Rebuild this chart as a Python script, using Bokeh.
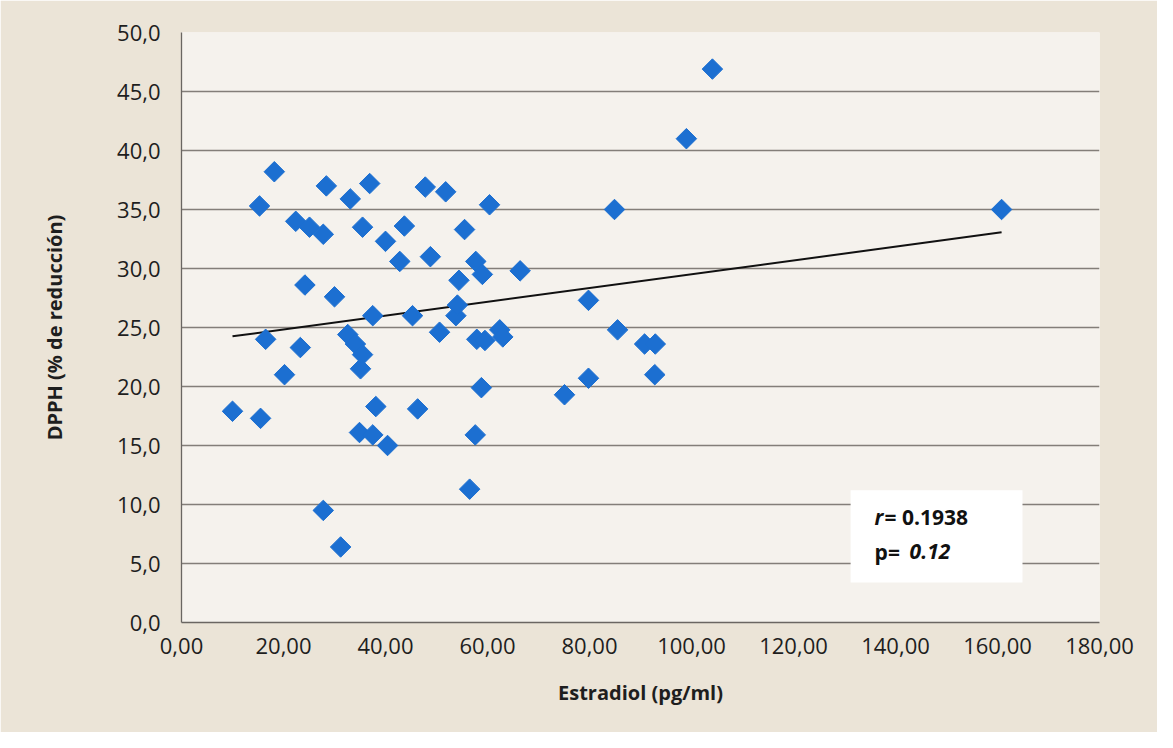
import numpy as np
from bokeh.plotting import figure
from bokeh.models import Range1d, FixedTicker, BoxAnnotation, Label, ColumnDataSource
from bokeh.embed import file_html
from bokeh.resources import INLINE

# Data
estradiol = [10.0, 15.3, 15.5, 16.5, 18.2, 20.2, 22.4, 23.3, 24.2, 25.1,
             27.8, 27.8, 28.4, 30.0, 31.2, 33.1, 32.6, 34.1, 35.5, 35.1,
             35.5, 34.9, 36.9, 37.5, 37.5, 38.1, 40.0, 40.4, 42.8, 43.7,
             45.3, 46.3, 47.8, 48.8, 50.6, 51.8, 53.8, 54.1, 54.4, 55.5,
             56.5, 57.7, 57.6, 59.0, 57.9, 58.8, 59.5, 60.4, 62.4, 63.0,
             66.4, 75.1, 79.8, 79.8, 84.9, 85.5, 90.8, 92.9, 92.8, 99.0,
             104.1, 160.8]
dpph = [17.9, 35.3, 17.3, 24.0, 38.2, 21.0, 34.0, 23.3, 28.6, 33.5,
        32.9, 9.5, 37.0, 27.6, 6.4, 35.9, 24.4, 23.6, 22.7, 21.5,
        33.5, 16.1, 37.2, 26.0, 15.9, 18.3, 32.3, 15.0, 30.6, 33.6,
        26.0, 18.1, 36.9, 31.0, 24.6, 36.5, 26.0, 26.9, 29.0, 33.3,
        11.3, 30.6, 15.9, 29.5, 24.0, 19.9, 23.9, 35.4, 24.8, 24.2,
        29.8, 19.3, 27.3, 20.7, 35.0, 24.8, 23.6, 23.6, 21.0, 41.0,
        46.9, 35.0]

x_ticks = [0, 20, 40, 60, 80, 100, 120, 140, 160, 180]
x_tick_labels = ["0,00", "20,00", "40,00", "60,00", "80,00", "100,00",
                 "120,00", "140,00", "160,00", "180,00"]
y_ticks = [0, 5, 10, 15, 20, 25, 30, 35, 40, 45, 50]
y_tick_labels = ["0,0", "5,0", "10,0", "15,0", "20,0", "25,0", "30,0",
                 "35,0", "40,0", "45,0", "50,0"]

r_text = "r"
r_value = "= 0.1938"
p_text = "p="
p_value = "0.12"

FONT = "Open Sans"
TXT = "#1e1e1e"

p = figure(width=1157, height=732, output_backend="svg", toolbar_location=None,
           x_range=Range1d(0, 180), y_range=Range1d(0, 50),
           min_border_left=181, min_border_right=58, min_border_top=32,
           min_border_bottom=110)

p.background_fill_color = "#f5f2ed"
p.border_fill_color = "#ebe4d7"
p.outline_line_color = None

# grid
p.xgrid.grid_line_color = None
p.ygrid.grid_line_color = "#837e79"
p.ygrid.grid_line_width = 1.3
p.ygrid.ticker = FixedTicker(ticks=y_ticks)

# axes
p.xaxis.ticker = FixedTicker(ticks=x_ticks)
p.xaxis.major_label_overrides = {t: l for t, l in zip(x_ticks, x_tick_labels)}
p.yaxis.ticker = FixedTicker(ticks=y_ticks)
p.yaxis.major_label_overrides = {t: l for t, l in zip(y_ticks, y_tick_labels)}

for ax in (p.xaxis[0], p.yaxis[0]):
    ax.axis_line_color = "#6a6662"
    ax.axis_line_width = 1.3
    ax.major_tick_line_color = None
    ax.minor_tick_line_color = None
    ax.major_tick_out = 0
    ax.major_tick_in = 0
    ax.major_label_text_font = FONT
    ax.major_label_text_font_size = "22px"
    ax.major_label_text_color = TXT
    ax.axis_label_text_font = FONT
    ax.axis_label_text_font_style = "bold"
    ax.axis_label_text_font_size = "20px"
    ax.axis_label_text_color = TXT

p.xaxis.axis_label = "Estradiol (pg/ml)"
p.yaxis.axis_label = "DPPH (% de reducción)"
p.yaxis.major_label_standoff = 21
p.xaxis.major_label_standoff = 15
p.yaxis.axis_label_standoff = 46
p.xaxis.axis_label_standoff = 22

# trend line (least squares from the data)
xa = np.array(estradiol)
ya = np.array(dpph)
slope, intercept = np.polyfit(xa, ya, 1)
tx = np.array([xa.min(), xa.max()])
p.line(tx, slope * tx + intercept, line_color="#111111", line_width=2)

# points
src = ColumnDataSource(data=dict(x=estradiol, y=dpph))
p.scatter("x", "y", source=src, marker="square", size=14.5, angle=np.pi / 4,
          fill_color="#1c6fd1", line_color="#1c6fd1", line_width=1)

# stats box
box = BoxAnnotation(left=131.2, right=164.9, bottom=3.4, top=11.2,
                    fill_color="white", fill_alpha=1.0, line_color=None)
p.add_layout(box)

common = dict(text_font=FONT, text_font_size="21px", text_color="#111111",
              text_baseline="middle", x_units="data", y_units="data")
p.add_layout(Label(x=135.9, y=8.9, text=r_text, text_font_style="bold italic", **common))
p.add_layout(Label(x=135.9, y=8.9, x_offset=10, text=r_value, text_font_style="bold", **common))
p.add_layout(Label(x=135.9, y=6.0, text=p_text, text_font_style="bold", **common))
p.add_layout(Label(x=135.9, y=6.0, x_offset=35, text=p_value, text_font_style="bold italic", **common))

open("out.html", "w").write(file_html(p, INLINE))
